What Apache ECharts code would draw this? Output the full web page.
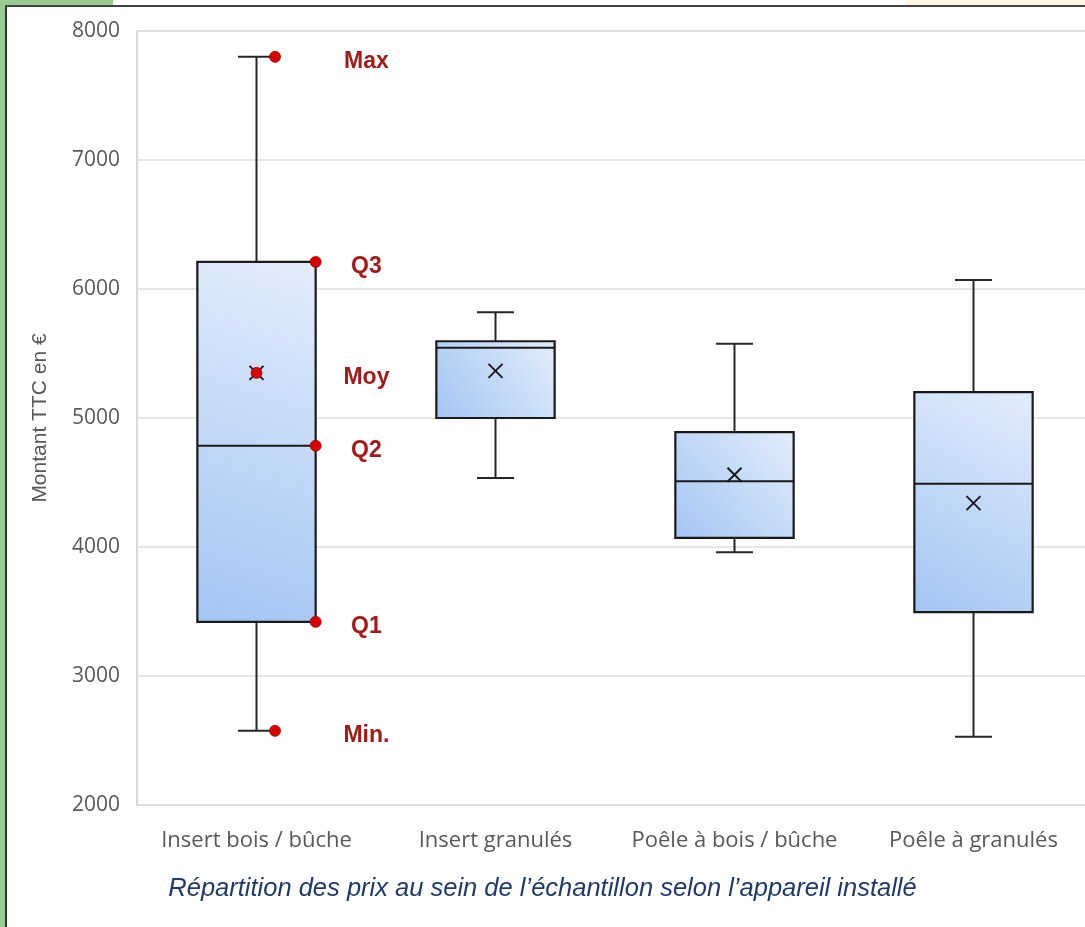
<!DOCTYPE html>
<html>
<head>
<meta charset="utf-8">
<script src="https://cdn.jsdelivr.net/npm/echarts@6/dist/echarts.min.js"></script>
<style>
html,body{margin:0;padding:0;background:#fff;}
#chart{width:1085px;height:927px;}
</style>
</head>
<body>
<div id="chart"></div>
<script>
// ---- data ----
const categories = ['Insert bois / bûche', 'Insert granulés', 'Poêle à bois / bûche', 'Poêle à granulés'];
const minValues    = [2575, 4535, 3960, 2530];
const q1Values     = [3420, 5000, 4070, 3495];
const medianValues = [4785, 5545, 4510, 4490];
const q3Values     = [6210, 5595, 4890, 5200];
const maxValues    = [7800, 5820, 5575, 6070];
const meanValues   = [5350, 5365, 4560, 4340];
const yTicks = [2000, 3000, 4000, 5000, 6000, 7000, 8000];
const annotationLabels = ['Max', 'Q3', 'Moy', 'Q2', 'Q1', 'Min.'];
const titleText = 'Répartition des prix au sein de l\u2019échantillon selon l\u2019appareil installé';
const yAxisName = 'Montant TTC en €';

const boxData = categories.map((c, i) => [i, minValues[i], q1Values[i], medianValues[i], q3Values[i], maxValues[i], meanValues[i]]);
// annotation of first box: [cat, value, labelIndex, kind]
const annoData = [
  [0, maxValues[0], 0, 'cap'],
  [0, q3Values[0], 1, 'box'],
  [0, meanValues[0], 2, 'center'],
  [0, medianValues[0], 3, 'box'],
  [0, q1Values[0], 4, 'box'],
  [0, minValues[0], 5, 'cap']
];

const chart = echarts.init(document.getElementById('chart'));
const DARK = '#262626';
const BOX_RATIO = 0.495;
const CAP_RATIO = 0.155;

function renderBox(params, api) {
  const i = api.value(0);
  const band = api.size([1, 0])[0];
  const halfW = band * BOX_RATIO / 2;
  const capHalf = band * CAP_RATIO / 2;
  const pMin = api.coord([i, api.value(1)]);
  const pQ1 = api.coord([i, api.value(2)]);
  const pMed = api.coord([i, api.value(3)]);
  const pQ3 = api.coord([i, api.value(4)]);
  const pMax = api.coord([i, api.value(5)]);
  const pMean = api.coord([i, api.value(6)]);
  const cx = pMed[0];
  const lineStyle = { stroke: DARK, lineWidth: 2 };
  const children = [
    { type: 'line', shape: { x1: cx, y1: pMax[1], x2: cx, y2: pQ3[1] }, style: lineStyle },
    { type: 'line', shape: { x1: cx, y1: pQ1[1], x2: cx, y2: pMin[1] }, style: lineStyle },
    { type: 'line', shape: { x1: cx - capHalf, y1: pMax[1], x2: cx + capHalf, y2: pMax[1] }, style: lineStyle },
    { type: 'line', shape: { x1: cx - capHalf, y1: pMin[1], x2: cx + capHalf, y2: pMin[1] }, style: lineStyle },
    {
      type: 'rect',
      shape: { x: cx - halfW, y: pQ3[1], width: halfW * 2, height: pQ1[1] - pQ3[1] },
      style: {
        fill: new echarts.graphic.LinearGradient(0, 1, 1, 0, [
          { offset: 0, color: '#a3c5f3' },
          { offset: 1, color: '#e3edfb' }
        ]),
        stroke: '#1a1a1a', lineWidth: 2.2
      }
    },
    { type: 'line', shape: { x1: cx - halfW, y1: pMed[1], x2: cx + halfW, y2: pMed[1] }, style: { stroke: '#1a1a1a', lineWidth: 2 } },
    { type: 'line', shape: { x1: pMean[0] - 7, y1: pMean[1] - 7, x2: pMean[0] + 7, y2: pMean[1] + 7 }, style: { stroke: '#1a1a1a', lineWidth: 2 } },
    { type: 'line', shape: { x1: pMean[0] - 7, y1: pMean[1] + 7, x2: pMean[0] + 7, y2: pMean[1] - 7 }, style: { stroke: '#1a1a1a', lineWidth: 2 } }
  ];
  return { type: 'group', children: children };
}

function renderAnno(params, api) {
  const i = api.value(0);
  const band = api.size([1, 0])[0];
  const p = api.coord([i, api.value(1)]);
  const kind = annoData[params.dataIndex][3];
  let dx = 0;
  if (kind === 'cap') dx = band * CAP_RATIO / 2;
  else if (kind === 'box') dx = band * BOX_RATIO / 2;
  const lbl = annotationLabels[annoData[params.dataIndex][2]];
  return {
    type: 'group',
    children: [
      { type: 'circle', shape: { cx: p[0] + dx, cy: p[1], r: 5.5 }, style: { fill: '#d90000', stroke: '#a00000', lineWidth: 0.8 } },
      {
        type: 'text',
        x: p[0] + band * 0.46, y: p[1] + 5,
        style: {
          text: lbl, fill: '#a31a1a', font: 'bold 23px "Liberation Sans", Arial, sans-serif',
          align: 'center', verticalAlign: 'middle'
        }
      }
    ]
  };
}

const option = {
  animation: false,
  backgroundColor: '#ffffff',
  grid: {
    left: 137, top: 31, width: 956, height: 774,
    outerBoundsMode: 'none', containLabel: false,
    show: true, borderColor: '#d9d9d9', borderWidth: 2, backgroundColor: 'transparent'
  },
  xAxis: {
    type: 'category',
    data: categories,
    axisLine: { show: false },
    axisTick: { show: false },
    splitLine: { show: false },
    axisLabel: {
      color: '#595959', fontSize: 22, fontFamily: '"Open Sans", sans-serif', margin: 25, interval: 0
    }
  },
  yAxis: {
    type: 'value',
    min: 2000, max: 8000, interval: 1000,
    name: yAxisName,
    nameLocation: 'middle',
    nameRotate: 90,
    nameGap: 86,
    nameTextStyle: { color: '#595959', fontSize: 21, fontFamily: '"Liberation Sans", Arial, sans-serif' },
    axisLine: { show: false },
    axisTick: { show: false },
    splitLine: { lineStyle: { color: '#dedede', width: 1.5 } },
    axisLabel: {
      color: '#595959', fontSize: 21, fontFamily: '"Open Sans", sans-serif', margin: 17,
      padding: [5, 0, 0, 0],
      formatter: v => (yTicks.indexOf(v) >= 0 ? String(v) : '')
    }
  },
  series: [
    { type: 'custom', renderItem: renderBox, data: boxData, encode: { x: 0, y: [1, 2, 3, 4, 5, 6] }, z: 3 },
    { type: 'custom', renderItem: renderAnno, data: annoData.map(d => [d[0], d[1]]), encode: { x: 0, y: 1 }, z: 4 }
  ],
  graphic: [
    { type: 'rect', left: 0, top: 0, shape: { width: 6, height: 927 }, style: { fill: '#9acb94' }, silent: true, z: 10 },
    { type: 'rect', left: 0, top: 0, shape: { width: 113, height: 5 }, style: { fill: '#9acb94' }, silent: true, z: 10 },
    { type: 'rect', left: 905, top: 0, shape: { width: 180, height: 5 }, style: { fill: '#fbf6e6' }, silent: true, z: 10 },
    { type: 'rect', left: 5, top: 5, shape: { width: 2, height: 922 }, style: { fill: '#333333' }, silent: true, z: 11 },
    { type: 'rect', left: 5, top: 5, shape: { width: 1080, height: 2 }, style: { fill: '#444444' }, silent: true, z: 11 },
    {
      type: 'text', left: 'center', top: 876,
      style: {
        text: titleText, fill: '#1f3a68',
        font: 'italic 25.5px "Liberation Sans", Arial, sans-serif'
      }
    }
  ]
};
chart.setOption(option);
</script>
</body>
</html>
